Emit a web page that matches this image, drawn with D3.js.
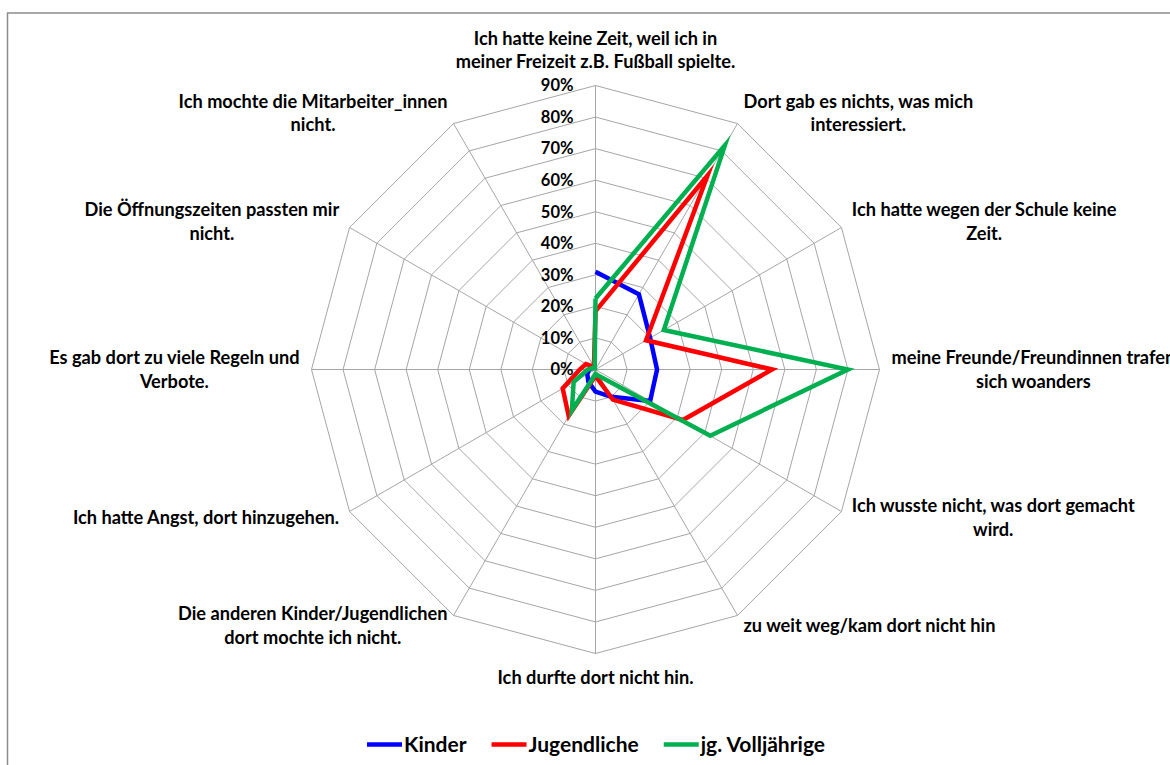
<!DOCTYPE html>
<html>
<head>
<meta charset="utf-8">
<script src="https://cdn.jsdelivr.net/npm/d3@7"></script>
<style>
  html, body { margin: 0; padding: 0; background: #fff; }
  svg { display: block; }
  text { font-family: Lato, "Open Sans", sans-serif; font-weight: bold; fill: #000; }
</style>
</head>
<body>
<svg id="chart" width="1170" height="765"></svg>
<script>
// ---- data ----
const categoryLines = [
  ["Ich hatte keine Zeit, weil ich in", "meiner Freizeit z.B. Fußball spielte."],
  ["Dort gab es nichts, was mich", "interessiert."],
  ["Ich hatte wegen der Schule keine", "Zeit."],
  ["meine Freunde/Freundinnen trafen", "sich woanders"],
  ["Ich wusste nicht, was dort gemacht", "wird."],
  ["zu weit weg/kam dort nicht hin"],
  ["Ich durfte dort nicht hin."],
  ["Die anderen Kinder/Jugendlichen", "dort mochte ich nicht."],
  ["Ich hatte Angst, dort hinzugehen."],
  ["Es gab dort zu viele Regeln und", "Verbote."],
  ["Die Öffnungszeiten passten mir", "nicht."],
  ["Ich mochte die Mitarbeiter_innen", "nicht."]
];
const seriesNames = ["Kinder", "Jugendliche", "jg. Volljährige"];
const seriesColors = ["#0000FF", "#FF0000", "#00B050"];
const kinder      = [31, 27.5, 20, 19.5, 20, 10, 7, 4.5, 3, 2, 1, null];
const jugendliche = [18.5, 71, 18.5, 56, 32, 11, 2, 17, 12, 5, 3.5, 1];
const volljaehrige = [22.5, 82, 25, 80, 42, 2.5, 1.5, 15, 8, 2.5, 1, 0.5];
const tickValues = [0, 10, 20, 30, 40, 50, 60, 70, 80, 90];
const tickLabels = ["0%", "10%", "20%", "30%", "40%", "50%", "60%", "70%", "80%", "90%"];

// ---- layout ----
const svg = d3.select("#chart");
const cx = 595.5, cy = 369.5;
const n = categoryLines.length;
const r = d3.scaleLinear().domain([0, 90]).range([0, 284]);
const a = d3.scaleLinear().domain([0, n]).range([0, 2 * Math.PI]);
const idx = d3.range(n);

// frame
svg.append("rect").attr("x", 7.5).attr("y", 13).attr("width", 1200).attr("height", 800)
  .attr("fill", "none").attr("stroke", "#8c8c8c").attr("stroke-width", 1.5);

const g = svg.append("g").attr("transform", `translate(${cx},${cy})`);

// grid rings
const ringLine = d3.lineRadial().angle(i => a(i)).curve(d3.curveLinearClosed);
tickValues.filter(t => t > 0).forEach(t => {
  g.append("path")
    .attr("d", ringLine.radius(() => r(t))(idx))
    .attr("fill", "none").attr("stroke", "#a6a6a6").attr("stroke-width", 1);
});
// spokes
g.selectAll("line.spoke").data(idx).join("line")
  .attr("class", "spoke")
  .attr("x1", 0).attr("y1", 0)
  .attr("x2", i => r(90) * Math.sin(a(i)))
  .attr("y2", i => -r(90) * Math.cos(a(i)))
  .attr("stroke", "#a6a6a6").attr("stroke-width", 1);

// series
const seriesData = [kinder, jugendliche, volljaehrige];
const sLine = d3.lineRadial()
  .defined(d => d.v != null)
  .angle(d => a(d.i))
  .radius(d => r(d.v));
seriesData.forEach((vals, s) => {
  const pts = vals.map((v, i) => ({ i, v }));
  pts.push({ i: n, v: vals[0] });
  g.append("path")
    .attr("d", sLine(pts))
    .attr("fill", "none")
    .attr("stroke", seriesColors[s])
    .attr("stroke-width", 4.5)
    .attr("stroke-linejoin", "miter")
    .attr("stroke-miterlimit", 10);
});

// tick labels
g.selectAll("text.tick").data(tickValues).join("text")
  .attr("class", "tick")
  .attr("x", -22)
  .attr("y", d => -r(d))
  .attr("dy", "0.35em")
  .attr("text-anchor", "end")
  .style("font-size", "16.5px")
  .text((d, i) => tickLabels[i]);

// category labels
const lineH = 23.5;
const labFont = 18.2;
idx.forEach(i => {
  const th = a(i);
  const s = Math.sin(th), c = Math.cos(th);
  const R = r(90) + 12;
  const ax = R * s, ay = -R * c;
  const lines = categoryLines[i];
  const grp = g.append("g");
  const texts = lines.map(t => grp.append("text")
    .style("font-size", labFont + "px")
    .attr("text-anchor", "middle")
    .text(t));
  const maxW = d3.max(texts, t => t.node().getComputedTextLength());
  let bx;
  if (Math.abs(s) < 1e-6) bx = ax;
  else if (s > 0) bx = ax + maxW / 2;
  else bx = ax - maxW / 2;
  const blockH = lines.length * lineH;
  let top;
  if (Math.abs(s) < 1e-6) top = c > 0 ? ay - blockH : ay;
  else top = ay - blockH / 2;
  texts.forEach((t, k) => {
    t.attr("x", bx).attr("y", top + lineH * (k + 0.5)).attr("dy", "0.35em");
  });
});

// legend
const legend = svg.append("g");
const legY = 744.5;
let items = seriesNames.map((name, s) => {
  const it = legend.append("g");
  it.append("line").attr("x1", 0).attr("x2", 35).attr("y1", 0).attr("y2", 0)
    .attr("stroke", seriesColors[s]).attr("stroke-width", 4.5);
  const t = it.append("text").attr("x", 37).attr("y", 0).attr("dy", "0.35em")
    .style("font-size", "21px").text(name);
  return { it, w: 37 + t.node().getComputedTextLength() };
});
const gap = 25;
const total = d3.sum(items, d => d.w) + gap * (items.length - 1);
let x0 = 596 - total / 2;
items.forEach(d => {
  d.it.attr("transform", `translate(${x0},${legY})`);
  x0 += d.w + gap;
});
</script>
</body>
</html>
